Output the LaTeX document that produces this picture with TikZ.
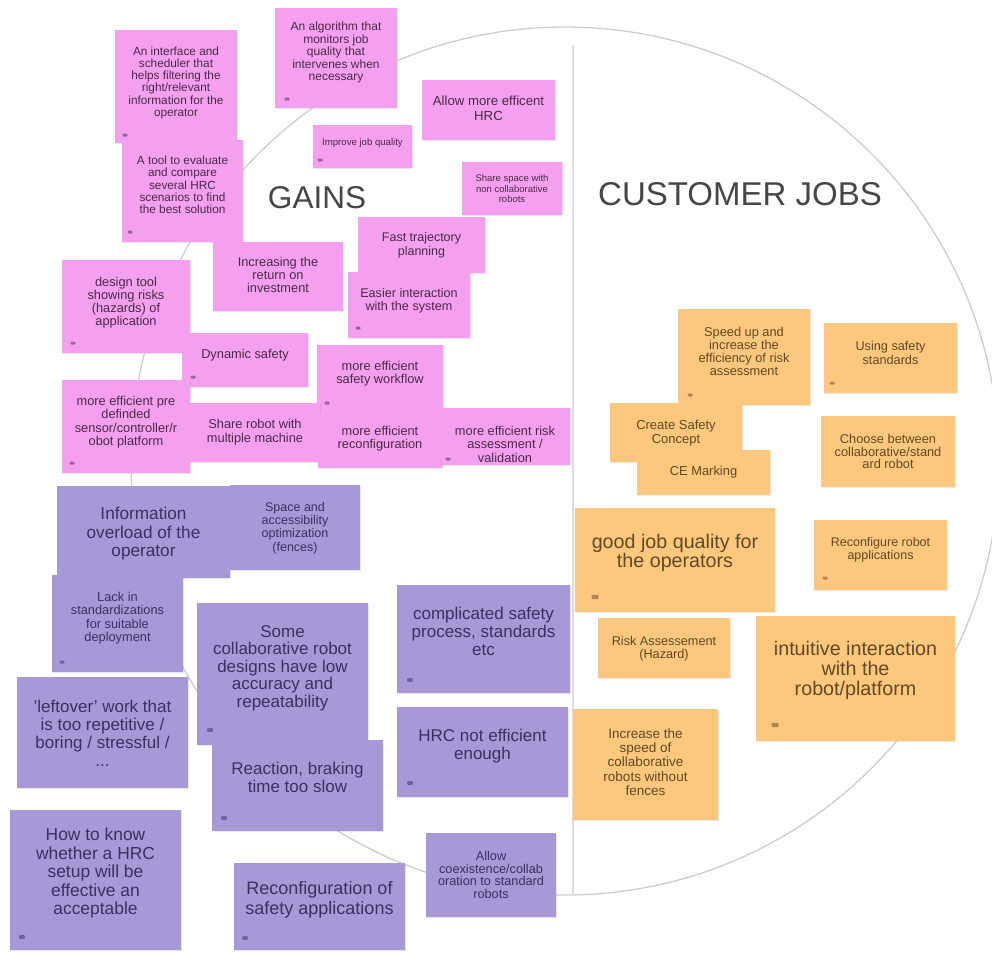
\documentclass[tikz,border=0pt]{standalone}
\usepackage{fontspec}
\setmainfont{Liberation Sans}
\usetikzlibrary{shadows}

\definecolor{gainfill}{RGB}{245,160,238}
\definecolor{gaintext}{RGB}{72,42,72}
\definecolor{painfill}{RGB}{168,152,216}
\definecolor{paintext}{RGB}{58,48,98}
\definecolor{jobfill}{RGB}{251,200,125}
\definecolor{jobtext}{RGB}{100,72,35}
\definecolor{ringgray}{RGB}{205,205,205}
\definecolor{titlegray}{RGB}{70,70,70}

\tikzset{
  notebase/.style={inner sep=0pt, outer sep=0pt, draw=none,
    drop shadow={shadow xshift=0.8pt, shadow yshift=-1.2pt, opacity=0.18}},
  gain/.style={notebase, fill=gainfill},
  pain/.style={notebase, fill=painfill},
  job/.style={notebase, fill=jobfill},
  gain text/.style={inner sep=0pt, align=center, text=gaintext},
  pain text/.style={inner sep=0pt, align=center, text=paintext},
  job text/.style={inner sep=0pt, align=center, text=jobtext},
  gain pin/.style={fill=gaintext, fill opacity=0.5},
  pain pin/.style={fill=paintext, fill opacity=0.5},
  job pin/.style={fill=jobtext, fill opacity=0.5},
  title/.style={inner sep=0pt, text=titlegray},
}

% \sticky{name}{kind}{x1}{y1}{x2}{y2}: the coloured note
\newcommand\sticky[6]{%
  \pgfmathsetmacro\stw{#5-#3}%
  \pgfmathsetmacro\sth{#6-#4}%
  \node[#2, minimum width=\stw pt, minimum height=\sth pt] (#1) at ({(#3+#5)/2},{(#4+#6)/2}) {};
}
% \notetext{name}{kind}{font size}{line skip}{top pad}{text}
\newcommand\notetext[6]{%
  \node[#2 text, font=\fontsize{#3}{#4}\selectfont, anchor=north] (#1-t) at ([yshift=-#5pt]#1.north) {#6};
}
% \notepin{name}{kind}{dx}{dy up}{size}: small reaction marker near the lower left corner
\newcommand\notepin[5]{%
  \node[#2 pin, inner sep=0pt, minimum width=#5pt, minimum height={0.6*#5pt}, rounded corners=1pt] (#1-pin) at ([shift={(#3pt,#4pt)}]#1.south west) {};
}

\begin{document}
\begin{tikzpicture}[x=1pt, y=-1pt]
\fill[white] (0,0) rectangle (992,954);
\useasboundingbox (0,0) rectangle (992,954);

% canvas ring and divider
\coordinate (mid) at (565,461);
\coordinate (divtop) at (573,45);
\coordinate (divbot) at (573,895);
\draw[ringgray, line width=1.3pt] (mid) circle [radius=434];
\draw[ringgray!70, line width=1.1pt] (divtop) -- (divbot);

% gains
\sticky{g1}{gain}{115}{30}{237}{143}
\notetext{g1}{gain}{11.8}{12.2}{16.5}{An interface and\\scheduler that\\helps filtering the\\right/relevant\\information for the\\operator}
\sticky{g2}{gain}{275}{8}{397}{108}
\notetext{g2}{gain}{12}{12.4}{14}{An algorithm that\\monitors job\\quality that\\intervenes when\\necessary}
\sticky{g3}{gain}{422}{80}{555}{140}
\notetext{g3}{gain}{13.2}{15}{16}{Allow more efficent\\HRC}
\sticky{g4}{gain}{313}{125}{412}{168}
\notetext{g4}{gain}{9.6}{11}{13.5}{Improve job quality}
\sticky{g5}{gain}{122}{140}{243}{242}
\notetext{g5}{gain}{11.8}{12.2}{16}{A tool to evaluate\\and compare\\several HRC\\scenarios to find\\the best solution}
\sticky{g6}{gain}{462}{162}{562}{215}
\notetext{g6}{gain}{9.5}{10.5}{12.5}{Share space with\\non collaborative\\robots}
\sticky{g7}{gain}{358}{217}{485}{273}
\notetext{g7}{gain}{12.5}{14}{15}{Fast trajectory\\planning}
\sticky{g8}{gain}{213}{242}{343}{311}
\notetext{g8}{gain}{12.8}{13}{15}{Increasing the\\return on\\investment}
\sticky{g9}{gain}{348}{272}{470}{338}
\notetext{g9}{gain}{12.6}{13.5}{16}{Easier interaction\\with the system}
\sticky{g10}{gain}{62}{260}{190}{353}
\notetext{g10}{gain}{12.8}{13}{17}{design tool\\showing risks\\(hazards) of\\application}
\sticky{g11}{gain}{182}{333}{308}{387}
\notetext{g11}{gain}{12.8}{13}{16}{Dynamic safety}
\sticky{g12}{gain}{317}{345}{443}{413}
\notetext{g12}{gain}{12.8}{13}{16}{more efficient\\safety workflow}
\sticky{g13}{gain}{62}{380}{190}{473}
\notetext{g13}{gain}{12.8}{13.3}{16}{more efficient pre\\definded\\sensor/controller/r\\obot platform}
\sticky{g14}{gain}{190}{403}{320}{462}
\notetext{g14}{gain}{12.8}{14}{16}{Share robot with\\multiple machine}
\sticky{g15}{gain}{318}{413}{442}{468}
\notetext{g15}{gain}{12.8}{13.5}{13}{more efficient\\reconfiguration}
\sticky{g16}{gain}{440}{408}{570}{465}
\notetext{g16}{gain}{12.8}{13.5}{18}{more efficient risk\\assessment /\\validation}

\notepin{g1}{gain}{10}{8}{5}
\notepin{g2}{gain}{12}{9}{5}
\notepin{g4}{gain}{7}{8}{5}
\notepin{g5}{gain}{8}{10}{5}
\notepin{g9}{gain}{10}{10}{5}
\notepin{g10}{gain}{11}{10}{5}
\notepin{g11}{gain}{11}{10}{5}
\notepin{g12}{gain}{10}{10}{5}
\notepin{g13}{gain}{10}{10}{5}
\notepin{g16}{gain}{8}{6}{5}

% pains
\sticky{p1}{pain}{57}{486}{230}{578}
\notetext{p1}{pain}{17.2}{18.5}{21}{Information\\overload of the\\operator}
\sticky{p2}{pain}{230}{485}{360}{570}
\notetext{p2}{pain}{12.5}{13.3}{17}{Space and\\accessibility\\optimization\\(fences)}
\sticky{p3}{pain}{52}{575}{183}{672}
\notetext{p3}{pain}{12.8}{13.3}{17}{Lack in\\standardizations\\for suitable\\deployment}
\sticky{p4}{pain}{17}{677}{188}{788}
\notetext{p4}{pain}{17}{18}{23}{'leftover' work that\\is too repetitive /\\boring / stressful /\\...}
\sticky{p5}{pain}{197}{603}{368}{745}
\notetext{p5}{pain}{17}{17.5}{22}{Some\\collaborative robot\\designs have low\\accuracy and\\repeatability}
\sticky{p6}{pain}{212}{740}{383}{831}
\notetext{p6}{pain}{17}{18}{22}{Reaction, braking\\time too slow}
\sticky{p7}{pain}{10}{810}{181}{950}
\notetext{p7}{pain}{17.4}{18.5}{18}{How to know\\whether a HRC\\setup will be\\effective an\\acceptable}
\sticky{p8}{pain}{234}{863}{405}{950}
\notetext{p8}{pain}{18}{20}{18.5}{Reconfiguration of\\safety applications}
\sticky{p9}{pain}{397}{585}{570}{693}
\notetext{p9}{pain}{17}{18}{22}{complicated safety\\process, standards\\etc}
\sticky{p10}{pain}{397}{707}{568}{797}
\notetext{p10}{pain}{17}{18}{22}{HRC not efficient\\enough}
\sticky{p11}{pain}{426}{833}{556}{917}
\notetext{p11}{pain}{12.7}{12.7}{18}{Allow\\coexistence/collab\\oration to standard\\robots}

\notepin{p3}{pain}{10}{10}{5}
\notepin{p5}{pain}{13}{15}{6}
\notepin{p6}{pain}{12}{13}{6}
\notepin{p7}{pain}{12}{13}{6}
\notepin{p8}{pain}{11}{12}{6}
\notepin{p9}{pain}{13}{13}{6}
\notepin{p10}{pain}{13}{14}{6}

% customer jobs
\sticky{j1}{job}{678}{309}{810}{405}
\notetext{j1}{job}{12.8}{13}{18}{Speed up and\\increase the\\efficiency of risk\\assessment}
\sticky{j2}{job}{824}{323}{957}{393}
\notetext{j2}{job}{12.7}{14}{18}{Using safety\\standards}
\sticky{j3}{job}{610}{403}{742}{462}
\notetext{j3}{job}{13}{14}{17}{Create Safety\\Concept}
\sticky{j4}{job}{637}{450}{770}{495}
\notetext{j4}{job}{12.9}{14}{16}{CE Marking}
\sticky{j5}{job}{821}{416}{955}{487}
\notetext{j5}{job}{12.8}{12.7}{18}{Choose between\\collaborative/stand\\ard robot}
\sticky{j6}{job}{575}{508}{775}{612}
\notetext{j6}{job}{19.7}{19.5}{26}{good job quality for\\the operators}
\sticky{j7}{job}{814}{520}{947}{590}
\notetext{j7}{job}{12.5}{13.5}{17}{Reconfigure robot\\applications}
\sticky{j8}{job}{598}{618}{730}{678}
\notetext{j8}{job}{12.7}{13}{18}{Risk Assessement\\(Hazard)}
\sticky{j9}{job}{756}{616}{955}{741}
\notetext{j9}{job}{19.7}{20}{25}{intuitive interaction\\with the\\robot/platform}
\sticky{j10}{job}{573}{709}{718}{820}
\notetext{j10}{job}{13.5}{14.2}{19.5}{Increase the\\speed of\\collaborative\\robots without\\fences}

\notepin{j1}{job}{12}{10}{5}
\notepin{j2}{job}{8}{10}{5}
\notepin{j6}{job}{20}{15}{7}
\notepin{j7}{job}{11}{12}{5}
\notepin{j9}{job}{19}{16}{7}

% section titles
\node[title, font=\fontsize{31.5}{36}\selectfont] (gains) at (317,198) {GAINS};
\node[title, font=\fontsize{33}{38}\selectfont] (jobs) at (740,194) {CUSTOMER JOBS};
\end{tikzpicture}
\end{document}
